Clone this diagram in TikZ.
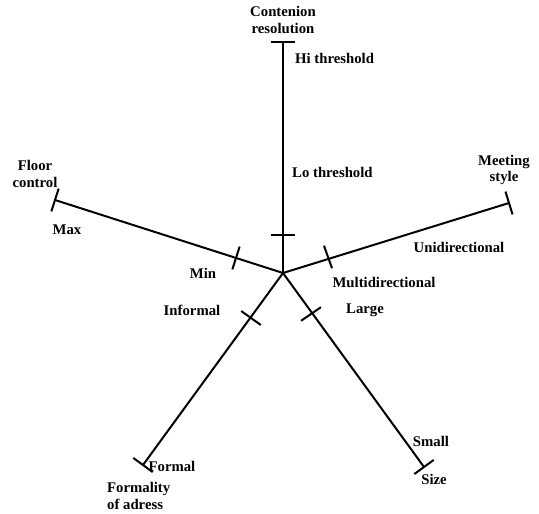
\documentclass[tikz,border=0pt]{standalone}
\usepackage{fontspec}
\setmainfont{Liberation Serif}
\usetikzlibrary{calc}
\begin{document}
\begin{tikzpicture}[x=1bp,y=-1bp,
  axisline/.style={line width=2bp,black},
  lbl/.style={font=\fontsize{14.8}{16.5}\selectfont\bfseries,inner sep=0pt,text=black}]
\useasboundingbox (0,0) rectangle (539,514);
% centre and axis ends
\coordinate (c) at (283,273);
\coordinate (eT) at (283,42);
\coordinate (eF) at (55,200);
\coordinate (eM) at (509,203);
\coordinate (eA) at (143,465);
\coordinate (eS) at (424,467);
% inner ticks
\coordinate (iT) at (283,235);
\coordinate (iF) at (236,258);
\coordinate (iM) at (328,257);
\coordinate (iA) at (251,318);
\coordinate (iS) at (311,314);
% axes
\foreach \e in {eT,eF,eM,eA,eS}{\draw[axisline] (c) -- (\e);}
% ticks
\foreach \t in {eT,eF,eM,eA,eS,iT,iF,iM,iA,iS}{
  \draw[axisline] ($(\t)!12bp!90:(c)$) -- ($(\t)!12bp!-90:(c)$);}
% labels
\node[lbl,align=center] (lT) at (283,20) {Contenion\\resolution};
\node[lbl,anchor=west] (hi) at (295,58) {Hi threshold};
\node[lbl,anchor=west] (lo) at (292,172) {Lo threshold};
\node[lbl,align=center] (lF) at (35,174) {Floor\\control};
\node[lbl] (max) at (67,230) {Max};
\node[lbl] (min) at (203,273) {Min};
\node[lbl,align=center] (lM) at (504,170) {Meeting\\style};
\node[lbl] (uni) at (459,247) {Unidirectional};
\node[lbl] (multi) at (384,282) {Multidirectional};
\node[lbl] (inf) at (192,310) {Informal};
\node[lbl] (large) at (365,310) {Large};
\node[lbl] (small) at (431,441) {Small};
\node[lbl] (lS) at (434,479) {Size};
\node[lbl] (formal) at (172,466) {Formal};
\node[lbl,align=left,anchor=west] (lA) at (107,496) {Formality\\of adress};
\end{tikzpicture}
\end{document}
